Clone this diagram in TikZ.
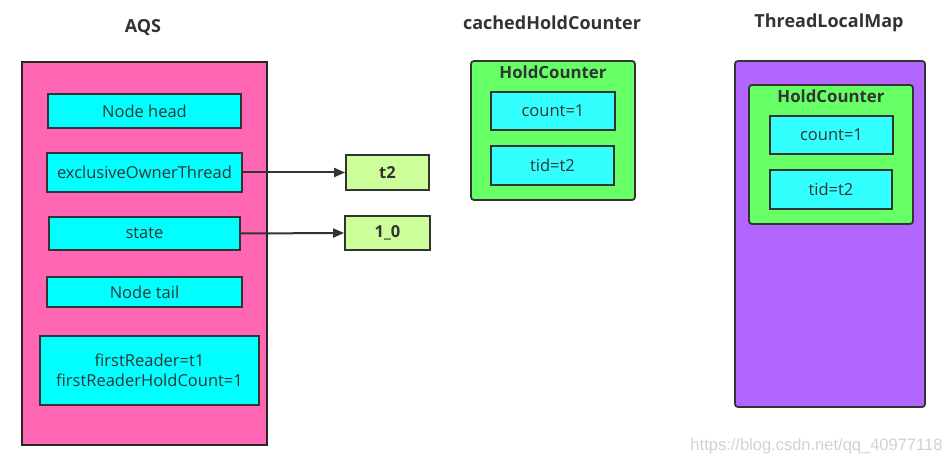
\documentclass[tikz,border=0pt]{standalone}
\usepackage{fontspec}
\setmainfont{Open Sans}
\newfontfamily\wmfont{Liberation Sans}
\usetikzlibrary{arrows.meta}
\definecolor{txt}{HTML}{333333}
\definecolor{pinkbg}{HTML}{FF66B3}
\definecolor{cyanA}{HTML}{00FFFF}
\definecolor{cyanB}{HTML}{33FFFF}
\definecolor{lgreen}{HTML}{CCFF99}
\definecolor{hgreen}{HTML}{66FF66}
\definecolor{purp}{HTML}{B266FF}
\tikzset{
  field/.style={draw=txt, line width=1.8pt, fill=cyanA, text=txt, font=\fontsize{16.5}{20}\selectfont, inner sep=0pt, align=center},
  hfield/.style={field, fill=cyanB},
  val/.style={draw=txt, line width=1.8pt, fill=lgreen, text=txt, font=\fontsize{16.5}{20}\selectfont\bfseries, inner sep=0pt},
  title/.style={text=txt, font=\fontsize{18}{21}\selectfont\bfseries},
  subtitle/.style={text=txt, font=\fontsize{16.8}{20}\selectfont\bfseries},
  ptr/.style={draw=txt, line width=2pt, -{Triangle[length=11pt,width=9pt]}},
}
\begin{document}
\begin{tikzpicture}[x=1pt,y=-1pt]
\useasboundingbox (0,0) rectangle (952,465);
% AQS
\node[title] (aqsT) at (143,28) {AQS};
\draw[draw=black!85, line width=2pt, fill=pinkbg] (22,62) rectangle (267,445);
\node[field, minimum width=193pt, minimum height=34pt] (head) at (144.5,111) {Node head};
\node[field, minimum width=195pt, minimum height=39pt] (excl) at (144.5,172.5) {exclusiveOwnerThread};
\node[field, minimum width=191pt, minimum height=33pt] (state) at (144.5,233.5) {state};
\node[field, minimum width=195pt, minimum height=30pt] (tail) at (144.5,292) {Node tail};
\node[field, minimum width=219pt, minimum height=69pt] (first) at (149.5,370.5) {firstReader=t1\\firstReaderHoldCount=1};
\node[val, minimum width=83pt, minimum height=35pt] (t2) at (387.5,172.5) {t2};
\node[val, minimum width=85pt, minimum height=34pt] (v10) at (387.5,233) {1\_0};
\draw[ptr] (excl.east) -- (t2.west);
\draw[ptr] (state.east) -- (v10.west);
% cachedHoldCounter
\node[title] (chT) at (552,23) {cachedHoldCounter};
\draw[draw=txt, line width=1.8pt, fill=hgreen, rounded corners=3pt] (471,61) rectangle (635,200);
\node[subtitle] (hc1) at (553,72) {HoldCounter};
\node[hfield, minimum width=124pt, minimum height=38pt] (c1) at (553,111) {count=1};
\node[hfield, minimum width=123pt, minimum height=39pt] (tid1) at (552.5,165.5) {tid=t2};
% ThreadLocalMap
\node[title] (tlmT) at (829,23) {ThreadLocalMap};
\draw[draw=txt, line width=1.8pt, fill=purp, rounded corners=3pt] (735,61) rectangle (925,407);
\draw[draw=txt, line width=1.8pt, fill=hgreen, rounded corners=3pt] (749,85) rectangle (913,224);
\node[subtitle] (hc2) at (831,96) {HoldCounter};
\node[hfield, minimum width=123pt, minimum height=38pt] (c2) at (831.5,135) {count=1};
\node[hfield, minimum width=122pt, minimum height=39pt] (tid2) at (831,189.5) {tid=t2};
% watermark
\node[text=black!18, font=\fontsize{16.5}{18}\selectfont\wmfont, anchor=east] (wm) at (946,446) {https://blog.csdn.net/qq\_40977118};
\end{tikzpicture}
\end{document}
